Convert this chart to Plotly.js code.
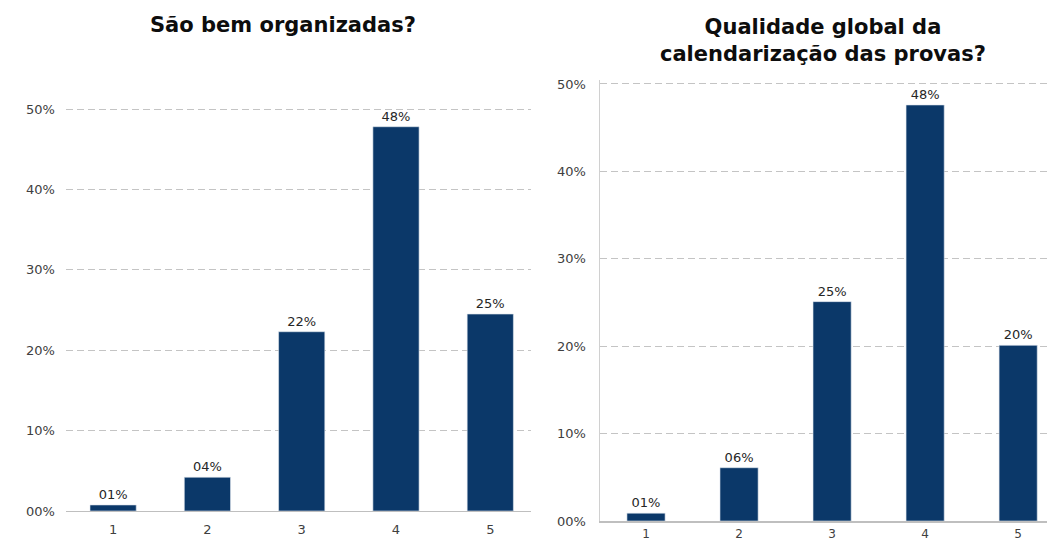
<!DOCTYPE html>
<html>
<head>
<meta charset="utf-8">
<script src="https://cdn.plot.ly/plotly-3.0.1.min.js"></script>
<style>html,body{margin:0;padding:0;background:#fff;}#chart{width:1047px;height:545px;}</style>
</head>
<body>
<div id="chart"></div>
<script>
const categories = ["1", "2", "3", "4", "5"];
const organizadasValues = [0.75, 4.2, 22.3, 47.8, 24.5];
const organizadasLabels = ["01%", "04%", "22%", "48%", "25%"];
const calendarValues = [0.9, 6.1, 25.1, 47.6, 20.1];
const calendarLabels = ["01%", "06%", "25%", "48%", "20%"];
const yTickVals = [0, 10, 20, 30, 40, 50];
const yTickText = ["00%", "10%", "20%", "30%", "40%", "50%"];
const titleLeft = "São bem organizadas?";
const titleRight = "Qualidade global da<br>calendarização das provas?";

const barColor = "#0b3869";
const font = "'DejaVu Sans', sans-serif";
const xNum = categories.map(c => Number(c));

const traces = [
  {type: "bar", x: xNum, y: organizadasValues, text: organizadasLabels, textposition: "outside",
   texttemplate: "%{text}", cliponaxis: false, width: 0.49,
   marker: {color: barColor, line: {color: "#dfe6ee", width: 0.6}},
   textfont: {family: font, size: 13, color: "#262626"}, xaxis: "x", yaxis: "y", hoverinfo: "skip"},
  {type: "bar", x: xNum, y: calendarValues, text: calendarLabels, textposition: "outside",
   texttemplate: "%{text}", cliponaxis: false, width: 0.41,
   marker: {color: barColor, line: {color: "#dfe6ee", width: 0.6}},
   textfont: {family: font, size: 13, color: "#262626"}, xaxis: "x2", yaxis: "y2", hoverinfo: "skip"}
];

const yCommon = {range: [0, 50.5], tickvals: yTickVals, ticktext: yTickText, showgrid: true,
  gridcolor: "#c4c4c4", griddash: "7px,4px", gridwidth: 1, zeroline: false,
  tickfont: {family: font, size: 13, color: "#404040"}, ticks: "", ticklabelstandoff: 10, fixedrange: true};
const xCommon = {tickvals: xNum, ticktext: categories, showgrid: false, zeroline: false, showline: true,
  linecolor: "#bfbfbf", linewidth: 1.5, ticks: "", tickfont: {family: font, size: 13, color: "#404040"},
  ticklabelstandoff: 6, fixedrange: true};

const layout = {
  width: 1047, height: 545, margin: {l: 0, r: 0, t: 0, b: 0},
  paper_bgcolor: "#fff", plot_bgcolor: "#fff", showlegend: false, bargap: 0.5,
  xaxis: Object.assign({}, xCommon, {domain: [0.063, 0.507], range: [0.5, 5.43], anchor: "y"}),
  yaxis: Object.assign({}, yCommon, {domain: [0.0624, 0.8073], anchor: "x", showline: false}),
  xaxis2: Object.assign({}, xCommon, {domain: [0.5726, 1.0], range: [0.5, 5.31], anchor: "y2",
    ticklabelstandoff: 1, tickfont: {family: font, size: 12, color: "#404040"}}),
  yaxis2: Object.assign({}, yCommon, {domain: [0.044, 0.8539], anchor: "x2", showline: true, linecolor: "#d0d0d0", linewidth: 1}),
  annotations: [
    {text: "<b>" + titleLeft + "</b>", xref: "paper", yref: "paper", x: 0.27, y: 1 - 25/545,
     xanchor: "center", yanchor: "middle", showarrow: false, font: {family: font, size: 21, color: "#0d0d0d"}},
    {text: "<b>" + titleRight + "</b>", xref: "paper", yref: "paper", x: 0.7865, y: 1 - 41/545,
     xanchor: "center", yanchor: "middle", showarrow: false, font: {family: font, size: 21, color: "#0d0d0d"}}
  ]
};

Plotly.newPlot("chart", traces, layout, {displayModeBar: false, staticPlot: true});
</script>
</body>
</html>
